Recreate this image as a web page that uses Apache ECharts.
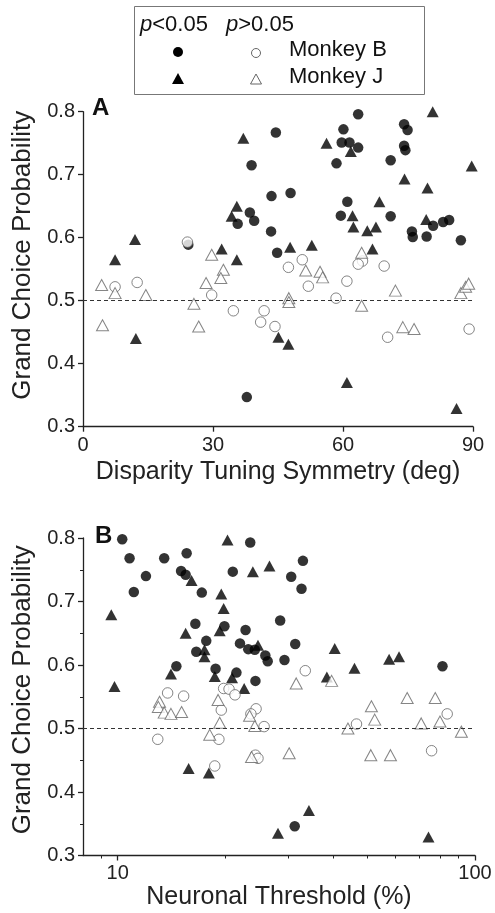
<!DOCTYPE html>
<html><head><meta charset="utf-8">
<script src="https://cdn.jsdelivr.net/npm/echarts@6/dist/echarts.min.js"></script>
<style>html,body{margin:0;padding:0;background:#fff}#c{width:495px;height:913px}</style>
</head><body><div id="c"></div>
<script>
// Panel A: Disparity Tuning Symmetry (deg) vs Grand Choice Probability
const A_B_sig = [[24.3,0.589],[44.5,0.767],[38.9,0.715],[43.5,0.666],[38.5,0.640],[39.5,0.627],[35.7,0.622],[43.4,0.610],[44.8,0.576],[37.8,0.347],[47.9,0.671],[63.5,0.796],[69.8,0.803],[60.1,0.772],[74.1,0.780],[74.9,0.771],[59.7,0.751],[61.5,0.751],[63.5,0.743],[74.1,0.746],[74.4,0.739],[58.5,0.718],[71.0,0.723],[90.1,0.664],[61.0,0.657],[59.5,0.635],[71.0,0.634],[80.8,0.619],[83.1,0.625],[84.5,0.628],[75.9,0.610],[76.1,0.601],[79.3,0.602],[87.2,0.596]];
const A_J_sig = [[37.0,0.758],[35.5,0.650],[34.3,0.634],[12.0,0.597],[7.4,0.565],[12.2,0.440],[32.0,0.582],[35.5,0.565],[47.8,0.585],[52.8,0.588],[66.8,0.582],[45.1,0.442],[47.4,0.431],[60.9,0.370],[86.2,0.329],[90.2,0.334],[80.7,0.800],[56.2,0.750],[61.8,0.737],[89.7,0.714],[74.2,0.693],[79.5,0.679],[68.4,0.657],[62.2,0.635],[79.2,0.629],[62.4,0.617],[65.6,0.611],[67.6,0.617]];
const A_B_ns = [[24.1,0.593],[7.4,0.522],[12.5,0.529],[29.7,0.509],[34.7,0.484],[41.8,0.484],[41.0,0.466],[44.3,0.459],[47.4,0.553],[50.6,0.565],[52.0,0.523],[60.9,0.531],[58.4,0.504],[64.5,0.563],[63.5,0.558],[69.5,0.555],[70.3,0.442],[89.1,0.455]];
const A_J_ns = [[4.3,0.525],[7.4,0.512],[14.5,0.509],[4.5,0.461],[29.7,0.573],[32.4,0.549],[31.8,0.536],[28.4,0.528],[25.6,0.495],[26.7,0.459],[51.4,0.548],[54.7,0.546],[55.3,0.537],[47.5,0.504],[47.5,0.498],[64.3,0.492],[64.3,0.576],[72.1,0.516],[73.8,0.458],[76.4,0.455],[87.2,0.512],[88.3,0.522],[89.0,0.527]];

// Panel B: Neuronal Threshold (%) vs Grand Choice Probability
const B_B_sig = [[10.3,0.798],[10.8,0.768],[13.5,0.768],[15.6,0.776],[12.0,0.740],[15.05,0.748],[15.5,0.742],[11.1,0.715],[17.2,0.714],[23.5,0.793],[21.0,0.747],[33.0,0.764],[30.6,0.739],[32.7,0.720],[16.5,0.665],[19.9,0.661],[17.7,0.638],[16.6,0.621],[14.6,0.598],[18.8,0.594],[21.5,0.588],[22.8,0.655],[22.0,0.634],[23.2,0.625],[24.2,0.624],[25.9,0.615],[26.3,0.606],[24.3,0.575],[28.5,0.670],[31.4,0.633],[29.3,0.608],[81.1,0.598],[31.3,0.346]];
const B_J_sig = [[16.1,0.733],[19.5,0.712],[20.3,0.797],[23.9,0.747],[26.6,0.756],[9.6,0.679],[9.8,0.566],[19.8,0.689],[15.5,0.650],[19.3,0.654],[17.5,0.624],[17.5,0.613],[14.1,0.586],[18.7,0.582],[20.9,0.580],[24.7,0.631],[22.6,0.563],[15.8,0.437],[18.0,0.430],[28.1,0.335],[34.3,0.371],[74.1,0.329],[40.5,0.626],[46.0,0.595],[57.5,0.609],[61.3,0.613],[38.5,0.581]];
const B_B_ns = [[13.8,0.556],[15.3,0.551],[12.95,0.483],[19.2,0.483],[18.7,0.441],[25.7,0.503],[24.3,0.458],[24.7,0.453],[46.6,0.507],[75.6,0.465],[33.5,0.591],[83.6,0.523],[19.5,0.529],[19.8,0.563],[20.5,0.562],[21.3,0.553],[24.4,0.531],[23.6,0.523]];
const B_J_ns = [[13.1,0.542],[13.0,0.534],[13.5,0.525],[14.1,0.523],[15.1,0.526],[18.1,0.490],[19.3,0.509],[24.2,0.504],[23.7,0.455],[30.2,0.461],[44.1,0.500],[52.4,0.514],[51.1,0.458],[58.0,0.458],[70.7,0.508],[79.8,0.511],[91.6,0.495],[31.6,0.571],[39.7,0.575],[51.3,0.535],[64.6,0.548],[77.4,0.548],[19.1,0.545],[23.4,0.520]];

const xTicksA = [0, 30, 60, 90];
const xMajorB = [10, 100];
const xMinorB = [9, 20, 30, 40, 50, 60, 70, 80, 90];
const refLine = 0.5;

const FONT = 'Liberation Sans, Arial, sans-serif';
const AX = '#222';
const chart = echarts.init(document.getElementById('c'), null, {renderer: 'canvas'});

function yAx(grid, minor, shift) {
  return {
    type: 'value', gridIndex: grid, min: 0.3, max: 0.8, interval: 0.1,
    name: 'Grand Choice Probability', nameLocation: 'middle', nameGap: 47,
    nameTextStyle: {fontFamily: FONT, fontSize: 26, color: AX, padding: [0, 0, 0, shift]},
    axisLine: {show: true, lineStyle: {color: AX, width: 1.3}},
    axisTick: {show: true, length: 5, lineStyle: {color: AX, width: 1.3}},
    minorTick: {show: minor, splitNumber: 2, length: 3, lineStyle: {color: AX, width: 1}},
    axisLabel: {fontFamily: FONT, fontSize: 20, color: AX, margin: 8, formatter: v => v.toFixed(1)},
    splitLine: {show: false}
  };
}
const scatterStyle = {
  filled: {color: '#000', borderWidth: 0},
  open: {color: '#fff', borderColor: '#666', borderWidth: 1}
};
function sc(data, xi, yi, sym, filled) {
  const isTri = sym === 'triangle';
  return {
    type: 'scatter', xAxisIndex: xi, yAxisIndex: yi, data: data,
    symbol: sym, symbolSize: isTri ? [12, 11] : 10.5,
    itemStyle: filled ? scatterStyle.filled : scatterStyle.open,
    z: filled ? 2 : 3
  };
}
const dashed = {
  silent: true, symbol: ['none', 'none'], label: {show: false},
  lineStyle: {type: [4, 3], color: '#333', width: 1},
  data: [{yAxis: refLine}]
};

const option = {
  animation: false,
  backgroundColor: '#fff',
  grid: [
    {left: 83, right: 22, top: 111.7, height: 315},
    {left: 83, right: 20, top: 538, height: 317.5}
  ],
  xAxis: [
    {
      type: 'value', gridIndex: 0, min: 0, max: 90, interval: 30,
      name: 'Disparity Tuning Symmetry (deg)', nameLocation: 'middle', nameGap: 33,
      nameTextStyle: {fontFamily: FONT, fontSize: 25, color: AX},
      axisLine: {show: true, onZero: false, lineStyle: {color: AX, width: 1.3}},
      axisTick: {show: true, length: 5, lineStyle: {color: AX, width: 1.3}},
      axisLabel: {fontFamily: FONT, fontSize: 20, color: AX, margin: 9, customValues: xTicksA},
      splitLine: {show: false}
    },
    {
      type: 'log', gridIndex: 1, min: 8, max: 100, logBase: 10,
      name: 'Neuronal Threshold (%)', nameLocation: 'middle', nameGap: 26,
      nameTextStyle: {fontFamily: FONT, fontSize: 25, color: AX},
      axisLine: {show: true, onZero: false, lineStyle: {color: AX, width: 1.3}},
      axisTick: {show: true, length: 5, customValues: xMajorB, lineStyle: {color: AX, width: 1.3}},
      axisLabel: {fontFamily: FONT, fontSize: 20, color: AX, margin: 8, customValues: xMajorB},
      splitLine: {show: false}
    },
    {
      type: 'log', gridIndex: 1, min: 8, max: 100, logBase: 10, position: 'bottom',
      axisLine: {show: false},
      axisTick: {show: true, length: 3, customValues: xMinorB, lineStyle: {color: AX, width: 1}},
      axisLabel: {show: false},
      splitLine: {show: false}
    }
  ],
  yAxis: [yAx(0, false, 28), yAx(1, true, 14)],
  series: [
    Object.assign(sc(A_B_sig, 0, 0, 'circle', true), {markLine: dashed}),
    sc(A_J_sig, 0, 0, 'triangle', true),
    sc(A_B_ns, 0, 0, 'circle', false),
    sc(A_J_ns, 0, 0, 'triangle', false),
    Object.assign(sc(B_B_sig, 1, 1, 'circle', true), {markLine: dashed}),
    sc(B_J_sig, 1, 1, 'triangle', true),
    sc(B_B_ns, 1, 1, 'circle', false),
    sc(B_J_ns, 1, 1, 'triangle', false)
  ],
  graphic: [
    {type: 'rect', shape: {x: 134.5, y: 6.5, width: 290, height: 88}, style: {fill: '#fff', stroke: '#777', lineWidth: 1}, z: 10},
    {type: 'text', x: 140, y: 14, style: {text: '{i|p}<0.05', font: '22px ' + FONT, fill: '#111', rich: {i: {fontStyle: 'italic', fontSize: 22, fontFamily: FONT}}}, z: 11},
    {type: 'text', x: 226, y: 14, style: {text: '{i|p}>0.05', font: '22px ' + FONT, fill: '#111', rich: {i: {fontStyle: 'italic', fontSize: 22, fontFamily: FONT}}}, z: 11},
    {type: 'text', x: 289, y: 39, style: {text: 'Monkey B', font: '22px ' + FONT, fill: '#111'}, z: 11},
    {type: 'text', x: 289, y: 66, style: {text: 'Monkey J', font: '22px ' + FONT, fill: '#111'}, z: 11},
    {type: 'circle', shape: {cx: 178, cy: 52, r: 5}, style: {fill: '#000'}, z: 11},
    {type: 'circle', shape: {cx: 256, cy: 53, r: 4.5}, style: {fill: '#fff', stroke: '#666', lineWidth: 1}, z: 11},
    {type: 'polygon', shape: {points: [[178, 73], [184, 84], [172, 84]]}, style: {fill: '#000'}, z: 11},
    {type: 'polygon', shape: {points: [[256, 74], [261.5, 84], [250.5, 84]]}, style: {fill: '#fff', stroke: '#666', lineWidth: 1}, z: 11},
    {type: 'text', x: 92, y: 96, style: {text: 'A', font: 'bold 24px ' + FONT, fill: '#111'}, z: 11},
    {type: 'text', x: 95, y: 524, style: {text: 'B', font: 'bold 24px ' + FONT, fill: '#111'}, z: 11}
  ]
};
chart.setOption(option);
</script></body></html>
